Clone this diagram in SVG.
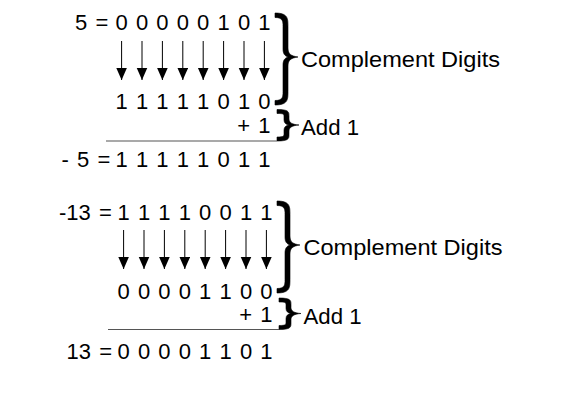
<svg xmlns="http://www.w3.org/2000/svg" width="572" height="400" viewBox="0 0 572 400">
<defs>
<style>
.t{font-family:"Liberation Sans",Arial,sans-serif;font-size:22px;fill:#000;word-spacing:2.05px}
.lbl{font-family:"Liberation Sans",Arial,sans-serif;font-size:22.5px;fill:#000}
.ar{stroke:#000;stroke-width:1;fill:none;marker-end:url(#ah)}
.rule{stroke:#555;stroke-width:1.2;fill:none}
.br{fill:#000;stroke:#000;stroke-width:0.6;stroke-linejoin:round}
</style>
<marker id="ah" markerUnits="userSpaceOnUse" markerWidth="13" markerHeight="12" refX="12.5" refY="5.5" orient="auto">
<path d="M0,0 L12.5,5.5 L0,11 z" fill="#000"/>
</marker>
</defs>
<rect width="572" height="400" fill="#fff"/>

<g id="block1">
<g id="b1-row1"><text class="t" y="30"><tspan x="75">5 = </tspan><tspan x="115.5">0 0 0 0 0 1 0 1</tspan></text></g>
<g id="b1-row2"><text class="t" x="115.5" y="109">1 1 1 1 1 0 1 0</text></g>
<g id="b1-plus"><text class="t" x="237.3" y="132.5">+ 1</text></g>
<g id="b1-row3"><text class="t" y="167"><tspan x="61.5">- 5 = </tspan><tspan x="115.5">1 1 1 1 1 0 1 1</tspan></text></g>
<g id="b1-brace-comp"><path class="br" d="M275,13 C288,13 288,18.5 288,26.5 L288,48 C288,54 291,56 298,57 C291,58 288,60 288,66 L288,91.5 C288,99.5 288,105 275,105 L275,100.5 C283,100.5 283,96.5 283,91.5 L283,65 C283,60 285,58 288,57 C285,56 283,54 283,49 L283,26.5 C283,21.5 283,17.5 275,17.5 Z"/>
<text class="lbl" x="301" y="66.5" textLength="199" lengthAdjust="spacingAndGlyphs">Complement Digits</text></g>
<g id="b1-brace-add"><path class="br" d="M277,109.5 C289,109.5 289,112 289,116 L289,119 C289,122.5 292,124.5 299,125 C292,125.5 289,127.5 289,131 L289,134.5 C289,138.5 289,141 277,141 L277,137 C284,137 284,136 284,133.5 L284,130 C284,127 286,125.5 289,125 C286,124.5 284,123 284,120 L284,117 C284,114 284,113.5 277,113.5 Z"/>
<text class="lbl" x="301" y="135" textLength="58" lengthAdjust="spacingAndGlyphs">Add 1</text></g>
</g>

<g id="block2">
<g id="b2-row1"><text class="t" y="220"><tspan x="59">-13 = </tspan><tspan x="117.5">1 1 1 1 0 0 1 1</tspan></text></g>
<g id="b2-row2"><text class="t" x="117.5" y="298.5">0 0 0 0 1 1 0 0</text></g>
<g id="b2-plus"><text class="t" x="239.3" y="322">+ 1</text></g>
<g id="b2-row3"><text class="t" y="358.5"><tspan x="66.5">13 = </tspan><tspan x="117.5">0 0 0 0 1 1 0 1</tspan></text></g>
<g id="b2-brace-comp"><path class="br" d="M277,201 C290,201 290,206.5 290,214.5 L290,236 C290,242 293,244 300,245 C293,246 290,248 290,254 L290,279.5 C290,287.5 290,293 277,293 L277,288.5 C285,288.5 285,284.5 285,279.5 L285,253 C285,248 287,246 290,245 C287,244 285,242 285,237 L285,214.5 C285,209.5 285,205.5 277,205.5 Z"/>
<text class="lbl" x="303.5" y="254.5" textLength="199" lengthAdjust="spacingAndGlyphs">Complement Digits</text></g>
<g id="b2-brace-add"><path class="br" d="M279,298 C291,298 291,300.5 291,304.5 L291,307.5 C291,311 294,313 301,313.5 C294,314 291,316 291,319.5 L291,323 C291,327 291,329.5 279,329.5 L279,325.5 C286,325.5 286,324.5 286,322 L286,318.5 C286,315.5 288,314 291,313.5 C288,313 286,311.5 286,308.5 L286,305.5 C286,302.5 286,302 279,302 Z"/>
<text class="lbl" x="303.5" y="323.5" textLength="58" lengthAdjust="spacingAndGlyphs">Add 1</text></g>
</g>

<g id="connectors">
<line class="rule" x1="106" y1="141" x2="277" y2="141"/>
<line class="rule" x1="108" y1="329.5" x2="279" y2="329.5"/>
<path class="ar" d="M121.6,41V80"/>
<path class="ar" d="M142,41V80"/>
<path class="ar" d="M162.4,41V80"/>
<path class="ar" d="M182.8,41V80"/>
<path class="ar" d="M203.2,41V80"/>
<path class="ar" d="M223.6,41V80"/>
<path class="ar" d="M244,41V80"/>
<path class="ar" d="M264.4,41V80"/>
<path class="ar" d="M123.6,230V269"/>
<path class="ar" d="M144,230V269"/>
<path class="ar" d="M164.4,230V269"/>
<path class="ar" d="M184.8,230V269"/>
<path class="ar" d="M205.2,230V269"/>
<path class="ar" d="M225.6,230V269"/>
<path class="ar" d="M246,230V269"/>
<path class="ar" d="M266.4,230V269"/>
</g>
</svg>
